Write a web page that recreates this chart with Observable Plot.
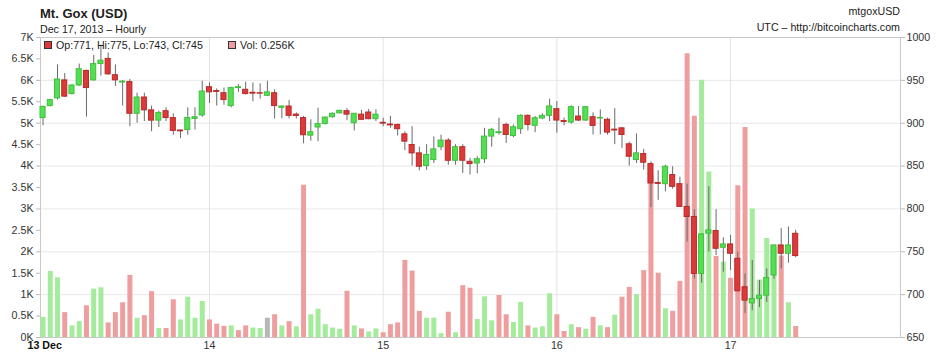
<!DOCTYPE html>
<html><head><meta charset="utf-8">
<script src="https://cdn.jsdelivr.net/npm/d3@7"></script>
<script src="https://cdn.jsdelivr.net/npm/@observablehq/plot@0.6"></script>
<style>
body{margin:0;background:#fff;font-family:"Liberation Sans",Arial,sans-serif;}
#wrap{position:relative;width:938px;height:356px;overflow:hidden;background:#fff}
#wrap svg{position:absolute;left:0;top:0}
.t{position:absolute;white-space:nowrap;color:#222;font-size:10.67px;line-height:10.67px;z-index:2}
.sq{position:absolute;width:8px;height:8px;box-sizing:border-box;border:1px solid #333;z-index:2}
</style></head><body>
<div id="wrap"></div>
<script>
// ---- data (hourly, Mt. Gox USD, from 13 Dec 2013 01:00 UTC) ----
const opens = [906,920,929,950,934,944,961,950,969,975,
  956,947.5,948,911,930,915,903,914,906,891.5,
  892,905,909,942,937.5,935,920,941,939,935.5,
  935,932,935,918,919.5,910,906,885.5,895,899,
  907,911.5,914,900,910,912.5,904.7,900.5,898.5,898,
  887,874.6,864.8,850,857,872,879.7,856.2,872,855,
  853,858,884.4,888.5,898,885,893,908.6,897,905.5,
  908.6,916.4,902.5,900.8,907.8,903.1,907,905.5,904,892.5,
  894,875.4,857,864,852.3,830.2,828.9,839.5,828.9,802.3,
  790.6,724.2,771.1,774.2,754.7,758.6,741.8,708.6,689.8,694.9,
  698.8,722.3,757.4,747.7,771];
const highs = [920,928,968,958,945,969,962,979,991,982,
  968,950,951,935,935,920,914,918,911,892,
  918,918,949,947,940,941,942,945,948,947,
  946,949,939,920,926.5,912,908,904,917.6,907,
  912,915,917,911,915,916,915.6,905.8,908,899,
  890,896,872,875,884,886,882,875,875,859,
  861,894,894,905.8,900,898,909.8,909.8,907.8,911,
  928,925.4,906,920.3,919.5,919.5,912,915.6,906,917,
  895,878,887.5,869.5,855,844.5,851,849.2,837,828.9,
  799,771,825.8,799.2,766.4,769.1,749.6,724.2,739.8,716.4,
  730,758,777,778.9,775];
const lows = [897,919,927,930,933,943,907,949,955,956,
  943,920,896,900,902,890,895,902,886,882,
  886,892,907,923,920,921,918,936,933,925,
  928,931,905,905,905,905,876,879,878.5,898,
  906,911,903,891,903,904,902,896,894,885,
  868,850,844.5,845,853,868,851,851,841.4,839.5,
  841,853,872,886,876.5,883,887,891,889,904,
  902,888.3,897,899,902,902,886.3,886.3,886,875,
  870.7,850,853,845.3,801.6,810,820,823,801.5,761.3,
  718.4,713.3,749.6,745.7,726.2,728.1,703,678.1,681.2,685,
  691,718,730,736.7,743];
const closes = [919,927,951,931,944,963,941,969,973,957,
  950,948.5,911,930,915,903,912,906,891,890.5,
  906,907,937,936,936.5,927,941,942,934,934.5,
  934.5,936,920,919.5,908.6,908.5,886,889.5,899,906.6,
  911,914.5,910,911,904,904.7,910,899.5,897.5,893,
  878.5,864.8,849.2,863,869.5,879.7,856.2,872,856.2,852.3,
  858,884.4,892.2,889.5,886.3,895.3,908.6,898,905.8,908.6,
  919.5,903.1,901.5,918.7,903.1,918.7,896.9,906.2,889,891.5,
  886.3,860.9,864.8,853.9,829.7,829.2,849.2,825.8,802.3,790.6,
  724.2,770.3,775,753.5,758.6,747.7,703.9,693,694.9,698.8,
  719.5,757.4,747.7,757.4,745];
// volume in thousands of BTC
const volumes = [.47,1.54,1.39,.58,.27,.37,.74,1.13,1.16,.34,
  .58,.81,1.45,.45,.51,1.07,.21,.21,.88,.41,
  .94,.45,.84,.41,.31,.26,.27,.16,.27,.22,
  .21,.45,.53,.27,.37,.25,3.55,.53,.66,.30,
  .22,.19,1.08,.27,.2,.13,.2,.11,.3,.34,
  1.8,1.55,.61,.45,.45,.09,.59,.11,1.21,1.15,
  .42,.95,.39,.98,.53,.35,.82,.27,.22,.25,
  1.02,.53,.14,.3,.23,.19,.47,.27,.23,.52,
  .94,1.17,1.0,1.56,3.8,1.5,.67,.61,1.31,6.62,
  5.16,6.0,3.86,1.89,1.76,1.38,3.54,4.9,3.0,1.34,
  2.31,2.1,1.9,.81,.256];
// volume bar colour: u = up, d = down, n = unchanged
const volDir = ("uuuduuduud" + "dddudduddu" + "uuuddduddu" + "undududuuu" + "uududuuddd" +
  "ddduuududd" + "uuudduuduu" + "uddudududu" + "dduddduddd" + "duududdduu" + "uudud").split("");
const volTicks = [0,0.5,1,1.5,2,2.5,3,3.5,4,4.5,5,5.5,6,6.5,7];
const priceTicks = [650,700,750,800,850,900,950,1000];
const dayTicks = [14,15,16,17];
const firstDayLabel = "13 Dec";

// ---- build ----
const start = Date.UTC(2013, 11, 13, 1);
const rows = opens.map((o, i) => ({
  t: new Date(start + i * 3600e3), o, h: highs[i], l: lows[i], c: closes[i], v: volumes[i], dir: volDir[i]
}));
const py = p => (p - 650) / 50;            // price -> left-axis units (gridlines coincide)
const half = 21 * 60e3;
const volColor = {u: "#a4eb9c", d: "#ee9e9e", n: "#b7b7b7"};
const dayDates = dayTicks.map(d => new Date(Date.UTC(2013, 11, d)));

const chart = Plot.plot({
  width: 938, height: 356,
  marginTop: 37, marginRight: 38, marginBottom: 19, marginLeft: 40,
  style: {fontFamily: "'Liberation Sans', Arial, sans-serif", fontSize: "10.67px", color: "#333", background: "transparent"},
  x: {type: "utc", domain: [new Date(Date.UTC(2013, 11, 13, 0, 39)), new Date(Date.UTC(2013, 11, 17, 23, 29))]},
  y: {domain: [0, 7]},
  color: {type: "identity"},
  marks: [
    Plot.gridY([1, 2, 3, 4, 5, 6], {stroke: "#e8e8e8", strokeOpacity: 1}),
    Plot.gridX(dayDates, {stroke: "#e3e3e3", strokeOpacity: 1}),
    Plot.frame({stroke: "#c8c8c8"}),
    Plot.ruleX(rows, {x: "t", y1: 0, y2: "v", stroke: d => volColor[d.dir], strokeWidth: 5}),
    Plot.ruleX(rows, {x: "t", y1: d => py(d.l), y2: d => py(d.h), stroke: "#6a6a6a", strokeWidth: 1}),
    Plot.rect(rows, {
      x1: d => new Date(+d.t - half), x2: d => new Date(+d.t + half),
      y1: d => py(d.o), y2: d => py(d.c),
      fill: d => d.c >= d.o ? "#52e052" : "#dc3a3a",
      stroke: d => d.c >= d.o ? "#3fbf3f" : "#b82a2a", strokeWidth: 1
    }),
    Plot.axisY({anchor: "left", ticks: volTicks, tickFormat: v => v + "K", tickSize: 4, tickPadding: 3, stroke: "#bbb", fill: "#333", label: null}),
    Plot.axisY({anchor: "right", ticks: priceTicks.map(py), tickFormat: v => String(Math.round(v * 50 + 650)), tickSize: 4, tickPadding: 2, stroke: "#bbb", fill: "#333", label: null}),
    Plot.axisX({ticks: dayDates, tickFormat: d => String(d.getUTCDate()), tickSize: 0, tickPadding: 4, fill: "#333", label: null}),
    Plot.text([firstDayLabel], {frameAnchor: "bottom-left", text: d => d, dx: -13, dy: 4, lineAnchor: "top", textAnchor: "start", fontWeight: "bold", fill: "#111"})
  ]
});
const wrap = document.getElementById("wrap");
wrap.appendChild(chart);

const last = rows[rows.length - 1];
const fmt = v => String(Math.round(v));
wrap.insertAdjacentHTML("beforeend", `
 <div class="t" style="left:40px;top:6.6px;font-size:13px;line-height:13px;font-weight:bold;color:#222">Mt. Gox (USD)</div>
 <div class="t" style="left:40px;top:24px">Dec 17, 2013 &ndash; Hourly</div>
 <div class="t" style="right:38px;top:5.6px">mtgoxUSD</div>
 <div class="t" style="right:38px;top:21.5px">UTC &ndash; http://bitcoincharts.com</div>
 <div class="sq" style="left:44px;top:41px;background:#dc3a3a"></div>
 <div class="t" style="left:56px;top:39.6px">Op:${fmt(last.o)}, Hi:${fmt(last.h)}, Lo:${fmt(last.l)}, Cl:${fmt(last.c)}</div>
 <div class="sq" style="left:228px;top:41px;background:#ee9e9e"></div>
 <div class="t" style="left:240px;top:39.6px">Vol: ${last.v.toFixed(3)}K</div>
`);
</script>
</body></html>
